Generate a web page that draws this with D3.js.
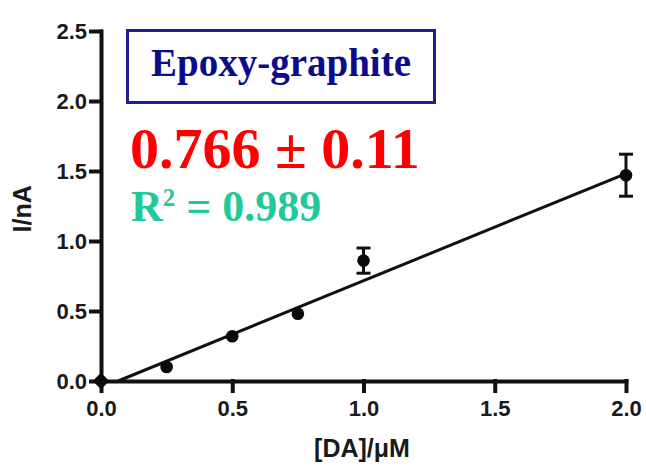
<!DOCTYPE html>
<html>
<head>
<meta charset="utf-8">
<script src="https://cdn.jsdelivr.net/npm/d3@7"></script>
<style>
  html, body { margin: 0; padding: 0; background: #fff; }
  svg { display: block; }
  .axis .tick text { font-family: "Liberation Sans", Arial, sans-serif; font-weight: bold; font-size: 22px; fill: #1a1a1a; }
</style>
</head>
<body>
<svg id="chart" width="646" height="466"></svg>
<script>
// Dopamine calibration: current vs. concentration
const concentration = [0, 0.25, 0.5, 0.75, 1.0, 2.0];   // [DA] / µM
const current       = [0, 0.10, 0.32, 0.48, 0.86, 1.47]; // I / nA
const currentError  = [0, 0, 0, 0, 0.09, 0.15];           // SD, nA
const xTicks = [0, 0.5, 1.0, 1.5, 2.0];
const yTicks = [0, 0.5, 1.0, 1.5, 2.0, 2.5];
const fitSlope = 0.766;
const fitSlopeError = 0.11;
const fitIntercept = -0.05;
const fitR2 = 0.989;
const electrodeName = "Epoxy-graphite";

const svg = d3.select("#chart");
const x = d3.scaleLinear().domain([0, 2]).range([101, 626]);
const y = d3.scaleLinear().domain([0, 2.5]).range([381, 31]);
const fmt = d3.format(".1f");

// Axes
const gx = svg.append("g").attr("class", "axis")
  .attr("transform", `translate(0,${y(0)})`)
  .call(d3.axisBottom(x).tickValues(xTicks).tickFormat(fmt).tickSize(10).tickSizeOuter(0).tickPadding(9));
const gy = svg.append("g").attr("class", "axis")
  .attr("transform", `translate(${x(0)},0)`)
  .call(d3.axisLeft(y).tickValues(yTicks).tickFormat(fmt).tickSize(10).tickSizeOuter(0).tickPadding(4));
[gx, gy].forEach(g => {
  g.attr("color", "#111");
  g.selectAll(".domain, .tick line")
    .attr("stroke", "#111")
    .attr("stroke-width", 4)
    .attr("stroke-linecap", "square");
});

// Axis titles
svg.append("text")
  .attr("x", 362).attr("y", 457)
  .attr("text-anchor", "middle")
  .attr("font-family", "Liberation Sans, Arial, sans-serif")
  .attr("font-weight", "bold").attr("font-size", 25).attr("fill", "#1a1a1a")
  .text("[DA]/\u03BCM");
svg.append("text")
  .attr("transform", `translate(31,${y(1.23)}) rotate(-90)`)
  .attr("text-anchor", "middle")
  .attr("font-family", "Liberation Sans, Arial, sans-serif")
  .attr("font-weight", "bold").attr("font-size", 25).attr("fill", "#1a1a1a")
  .text("I/nA");

// Regression line from its x-intercept to the last concentration
const xStart = -fitIntercept / fitSlope;
const xEnd = d3.max(concentration);
svg.append("line")
  .attr("x1", x(xStart)).attr("y1", y(fitSlope * xStart + fitIntercept))
  .attr("x2", x(xEnd)).attr("y2", y(fitSlope * xEnd + fitIntercept))
  .attr("stroke", "#111").attr("stroke-width", 3);

const pts = concentration.map((c, i) => ({ c, v: current[i], e: currentError[i] }));

// Error bars
const eb = svg.append("g").attr("stroke", "#111").attr("stroke-width", 3);
pts.filter(d => d.e > 0).forEach(d => {
  eb.append("line").attr("x1", x(d.c)).attr("x2", x(d.c)).attr("y1", y(d.v - d.e)).attr("y2", y(d.v + d.e));
  [d.v - d.e, d.v + d.e].forEach(v =>
    eb.append("line").attr("x1", x(d.c) - 7).attr("x2", x(d.c) + 7).attr("y1", y(v)).attr("y2", y(v)));
});

// Markers: blank point as a diamond, standards as circles
svg.append("g").selectAll("path")
  .data(pts)
  .join("path")
  .attr("transform", d => `translate(${x(d.c)},${y(d.v)})` + (d.c === 0 ? " rotate(45)" : ""))
  .attr("d", d => d.c === 0 ? d3.symbol(d3.symbolSquare, 140)() : d3.symbol(d3.symbolCircle, 125)())
  .attr("fill", "#0a0a0a");

// Electrode label box
svg.append("rect")
  .attr("x", 127.5).attr("y", 30.5).attr("width", 307).attr("height", 72)
  .attr("fill", "none").attr("stroke", "#1f1f8f").attr("stroke-width", 3);
svg.append("text")
  .attr("x", 281).attr("y", 76)
  .attr("text-anchor", "middle")
  .attr("font-family", "Liberation Serif, 'Times New Roman', serif")
  .attr("font-weight", "bold").attr("font-size", 39).attr("fill", "#0b0b8c")
  .text(electrodeName);

// Sensitivity and fit quality
svg.append("text")
  .attr("x", 130).attr("y", 168)
  .attr("font-family", "Liberation Serif, 'Times New Roman', serif")
  .attr("font-weight", "bold").attr("font-size", 58).attr("fill", "#ff0000")
  .text(`${fitSlope} \u00B1 ${fitSlopeError}`);
const r2 = svg.append("text")
  .attr("x", 131).attr("y", 221)
  .attr("font-family", "Liberation Serif, 'Times New Roman', serif")
  .attr("font-weight", "bold").attr("font-size", 44).attr("fill", "#1fca96");
r2.append("tspan").text("R");
r2.append("tspan").attr("font-size", 25).attr("dy", -15).text("2");
r2.append("tspan").attr("dy", 15).text(` = ${fitR2}`);
</script>
</body>
</html>
